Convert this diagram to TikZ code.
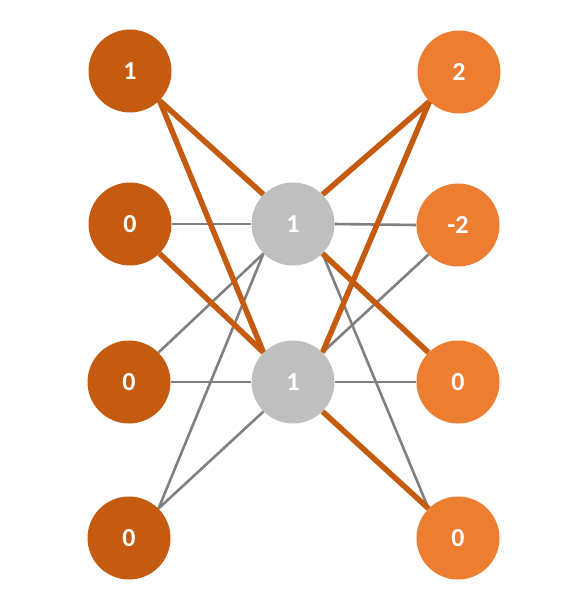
\documentclass[tikz,border=0pt]{standalone}
\usepackage{fontspec}
\setmainfont{Carlito}
\usetikzlibrary{backgrounds}
\definecolor{darkor}{RGB}{197,90,17}
\definecolor{lightor}{RGB}{237,125,49}
\definecolor{midgray}{RGB}{191,191,191}
\definecolor{linegray}{RGB}{128,128,128}
\begin{document}
\begin{tikzpicture}[x=1pt,y=-1pt,
  neuron/.style={circle,minimum size=83pt,inner sep=0pt,text=white,font=\fontsize{26}{26}\selectfont\bfseries},
  inL/.style={neuron,fill=darkor},
  outR/.style={neuron,fill=lightor},
  hid/.style={neuron,fill=midgray},
  hot/.style={draw=darkor,line width=5.5pt},
  cold/.style={draw=linegray,line width=2.6pt}]
\useasboundingbox (0,0) rectangle (586,611);
\node[inL] (L1) at (130,71) {1};
\node[inL] (L2) at (130,224) {0};
\node[inL] (L3) at (129,382) {0};
\node[inL] (L4) at (129,538) {0};
\node[hid] (M1) at (293,224) {1};
\node[hid] (M2) at (293,382) {1};
\node[outR] (R1) at (459,72) {2};
\node[outR] (R2) at (458,225) {-2};
\node[outR] (R3) at (458,382) {0};
\node[outR] (R4) at (458,538) {0};
\begin{scope}[on background layer]
\draw[cold] (L2.east) -- (M1.west);
\draw[cold] (L3.north east) -- (M1.south west);
\draw[cold] (L3.east) -- (M2.west);
\draw[cold] (L4.north east) -- (M1.south west);
\draw[cold] (L4.north east) -- (M2.south west);
\draw[cold] (M1.east) -- (R2.west);
\draw[cold] (M2.north east) -- (R2.south west);
\draw[cold] (M2.east) -- (R3.west);
\draw[cold] (M1.south east) -- (R4.north west);
\draw[hot] (L1.south east) -- (M1.north west);
\draw[hot] (L1.south east) -- (M2.north west);
\draw[hot] (L2.south east) -- (M2.north west);
\draw[hot] (M1.north east) -- (R1.south west);
\draw[hot] (M2.north east) -- (R1.south west);
\draw[hot] (M1.south east) -- (R3.north west);
\draw[hot] (M2.south east) -- (R4.north west);
\end{scope}
\end{tikzpicture}
\end{document}
